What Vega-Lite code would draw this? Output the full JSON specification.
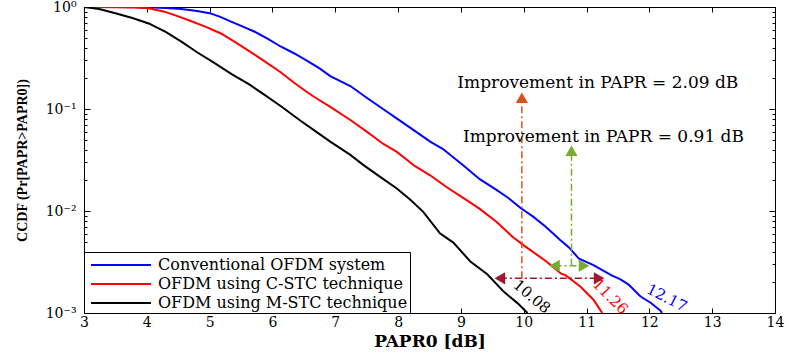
{
  "$schema": "https://vega.github.io/schema/vega-lite/v6.json",
  "width": 691,
  "height": 306,
  "autosize": {"type": "none"},
  "padding": {"left": 84, "top": 7, "right": 14, "bottom": 41},
  "background": "white",
  "config": {
    "view": {"stroke": "black", "strokeWidth": 1},
    "axis": {"grid": false, "domainColor": "black", "tickColor": "black", "labelColor": "black", "titleColor": "black", "labelFont": "DejaVu Serif", "labelFontSize": 14, "titleFont": "DejaVu Serif"},
    "legend": {"strokeColor": "black", "fillColor": "white", "padding": 2, "rowPadding": -3, "symbolType": "M-0.6,0H5.4", "symbolSize": 400, "symbolStrokeWidth": 2, "labelFont": "DejaVu Serif", "labelFontSize": 16, "labelOffset": 50, "labelColor": "black", "labelLimit": 500}
  },
  "datasets": {
    "curves": [
      {"s": "Conventional OFDM system", "x": 3.0, "y": 1.0},
      {"s": "Conventional OFDM system", "x": 3.5, "y": 0.999},
      {"s": "Conventional OFDM system", "x": 4.0, "y": 0.993},
      {"s": "Conventional OFDM system", "x": 4.3, "y": 0.98},
      {"s": "Conventional OFDM system", "x": 4.55, "y": 0.955},
      {"s": "Conventional OFDM system", "x": 4.8, "y": 0.915},
      {"s": "Conventional OFDM system", "x": 5.0, "y": 0.87},
      {"s": "Conventional OFDM system", "x": 5.17, "y": 0.8},
      {"s": "Conventional OFDM system", "x": 5.34, "y": 0.72},
      {"s": "Conventional OFDM system", "x": 5.52, "y": 0.645},
      {"s": "Conventional OFDM system", "x": 5.71, "y": 0.575},
      {"s": "Conventional OFDM system", "x": 5.92, "y": 0.49},
      {"s": "Conventional OFDM system", "x": 6.13, "y": 0.41},
      {"s": "Conventional OFDM system", "x": 6.35, "y": 0.35},
      {"s": "Conventional OFDM system", "x": 6.56, "y": 0.295},
      {"s": "Conventional OFDM system", "x": 6.75, "y": 0.25},
      {"s": "Conventional OFDM system", "x": 6.92, "y": 0.21},
      {"s": "Conventional OFDM system", "x": 7.24, "y": 0.168},
      {"s": "Conventional OFDM system", "x": 7.5, "y": 0.129},
      {"s": "Conventional OFDM system", "x": 7.76, "y": 0.1},
      {"s": "Conventional OFDM system", "x": 8.0, "y": 0.079},
      {"s": "Conventional OFDM system", "x": 8.3, "y": 0.0589},
      {"s": "Conventional OFDM system", "x": 8.51, "y": 0.0479},
      {"s": "Conventional OFDM system", "x": 8.71, "y": 0.0407},
      {"s": "Conventional OFDM system", "x": 9.03, "y": 0.0282},
      {"s": "Conventional OFDM system", "x": 9.3, "y": 0.0205},
      {"s": "Conventional OFDM system", "x": 9.56, "y": 0.0162},
      {"s": "Conventional OFDM system", "x": 9.75, "y": 0.0135},
      {"s": "Conventional OFDM system", "x": 9.95, "y": 0.0107},
      {"s": "Conventional OFDM system", "x": 10.15, "y": 0.0088},
      {"s": "Conventional OFDM system", "x": 10.35, "y": 0.007},
      {"s": "Conventional OFDM system", "x": 10.58, "y": 0.0052},
      {"s": "Conventional OFDM system", "x": 10.72, "y": 0.0044},
      {"s": "Conventional OFDM system", "x": 10.88, "y": 0.0034},
      {"s": "Conventional OFDM system", "x": 11.11, "y": 0.00295},
      {"s": "Conventional OFDM system", "x": 11.4, "y": 0.00234},
      {"s": "Conventional OFDM system", "x": 11.54, "y": 0.00214},
      {"s": "Conventional OFDM system", "x": 11.67, "y": 0.0019},
      {"s": "Conventional OFDM system", "x": 11.86, "y": 0.00145},
      {"s": "Conventional OFDM system", "x": 12.02, "y": 0.00126},
      {"s": "Conventional OFDM system", "x": 12.18, "y": 0.00105},
      {"s": "Conventional OFDM system", "x": 12.2, "y": 0.001},
      {"s": "OFDM using C-STC technique", "x": 3.0, "y": 1.0},
      {"s": "OFDM using C-STC technique", "x": 3.5, "y": 0.997},
      {"s": "OFDM using C-STC technique", "x": 3.8, "y": 0.99},
      {"s": "OFDM using C-STC technique", "x": 4.03, "y": 0.97},
      {"s": "OFDM using C-STC technique", "x": 4.28, "y": 0.9},
      {"s": "OFDM using C-STC technique", "x": 4.5, "y": 0.81},
      {"s": "OFDM using C-STC technique", "x": 4.71, "y": 0.724},
      {"s": "OFDM using C-STC technique", "x": 4.95, "y": 0.635},
      {"s": "OFDM using C-STC technique", "x": 5.18, "y": 0.55},
      {"s": "OFDM using C-STC technique", "x": 5.4, "y": 0.455},
      {"s": "OFDM using C-STC technique", "x": 5.6, "y": 0.38},
      {"s": "OFDM using C-STC technique", "x": 5.87, "y": 0.295},
      {"s": "OFDM using C-STC technique", "x": 6.13, "y": 0.229},
      {"s": "OFDM using C-STC technique", "x": 6.35, "y": 0.18},
      {"s": "OFDM using C-STC technique", "x": 6.56, "y": 0.145},
      {"s": "OFDM using C-STC technique", "x": 6.71, "y": 0.126},
      {"s": "OFDM using C-STC technique", "x": 6.92, "y": 0.105},
      {"s": "OFDM using C-STC technique", "x": 7.24, "y": 0.078},
      {"s": "OFDM using C-STC technique", "x": 7.5, "y": 0.06},
      {"s": "OFDM using C-STC technique", "x": 7.76, "y": 0.0457},
      {"s": "OFDM using C-STC technique", "x": 7.98, "y": 0.038},
      {"s": "OFDM using C-STC technique", "x": 8.27, "y": 0.0275},
      {"s": "OFDM using C-STC technique", "x": 8.51, "y": 0.0224},
      {"s": "OFDM using C-STC technique", "x": 8.77, "y": 0.0172},
      {"s": "OFDM using C-STC technique", "x": 9.03, "y": 0.0135},
      {"s": "OFDM using C-STC technique", "x": 9.3, "y": 0.0105},
      {"s": "OFDM using C-STC technique", "x": 9.56, "y": 0.0079},
      {"s": "OFDM using C-STC technique", "x": 9.82, "y": 0.0056},
      {"s": "OFDM using C-STC technique", "x": 10.0, "y": 0.0046},
      {"s": "OFDM using C-STC technique", "x": 10.35, "y": 0.00324},
      {"s": "OFDM using C-STC technique", "x": 10.59, "y": 0.00245},
      {"s": "OFDM using C-STC technique", "x": 10.67, "y": 0.00234},
      {"s": "OFDM using C-STC technique", "x": 10.9, "y": 0.00182},
      {"s": "OFDM using C-STC technique", "x": 11.11, "y": 0.00135},
      {"s": "OFDM using C-STC technique", "x": 11.25, "y": 0.001},
      {"s": "OFDM using M-STC technique", "x": 3.0, "y": 1.0},
      {"s": "OFDM using M-STC technique", "x": 3.24, "y": 0.955},
      {"s": "OFDM using M-STC technique", "x": 3.5, "y": 0.87},
      {"s": "OFDM using M-STC technique", "x": 3.77, "y": 0.78},
      {"s": "OFDM using M-STC technique", "x": 4.03, "y": 0.69},
      {"s": "OFDM using M-STC technique", "x": 4.3, "y": 0.57},
      {"s": "OFDM using M-STC technique", "x": 4.55, "y": 0.457},
      {"s": "OFDM using M-STC technique", "x": 4.8, "y": 0.36},
      {"s": "OFDM using M-STC technique", "x": 5.08, "y": 0.282},
      {"s": "OFDM using M-STC technique", "x": 5.35, "y": 0.22},
      {"s": "OFDM using M-STC technique", "x": 5.63, "y": 0.174},
      {"s": "OFDM using M-STC technique", "x": 5.88, "y": 0.137},
      {"s": "OFDM using M-STC technique", "x": 6.13, "y": 0.107},
      {"s": "OFDM using M-STC technique", "x": 6.42, "y": 0.079},
      {"s": "OFDM using M-STC technique", "x": 6.71, "y": 0.059},
      {"s": "OFDM using M-STC technique", "x": 6.92, "y": 0.0479},
      {"s": "OFDM using M-STC technique", "x": 7.24, "y": 0.0355},
      {"s": "OFDM using M-STC technique", "x": 7.45, "y": 0.0282},
      {"s": "OFDM using M-STC technique", "x": 7.72, "y": 0.0215},
      {"s": "OFDM using M-STC technique", "x": 7.98, "y": 0.0166},
      {"s": "OFDM using M-STC technique", "x": 8.2, "y": 0.0128},
      {"s": "OFDM using M-STC technique", "x": 8.4, "y": 0.0098},
      {"s": "OFDM using M-STC technique", "x": 8.67, "y": 0.006},
      {"s": "OFDM using M-STC technique", "x": 8.88, "y": 0.0049},
      {"s": "OFDM using M-STC technique", "x": 9.15, "y": 0.0032},
      {"s": "OFDM using M-STC technique", "x": 9.42, "y": 0.0024},
      {"s": "OFDM using M-STC technique", "x": 9.68, "y": 0.00162},
      {"s": "OFDM using M-STC technique", "x": 9.9, "y": 0.00125},
      {"s": "OFDM using M-STC technique", "x": 10.06, "y": 0.001}
    ]
  },
  "layer": [
    {
      "data": {"name": "curves"},
      "mark": {"type": "line", "strokeWidth": 2, "clip": true},
      "encoding": {
        "x": {"field": "x", "type": "quantitative", "scale": {"domain": [3, 14], "nice": false, "zero": false},
          "axis": {"orient": "bottom", "values": [3,4,5,6,7,8,9,10,11,12,13,14], "tickSize": -5, "labelPadding": 7, "title": "PAPR0 [dB]", "titleFontWeight": "bold", "titleFontSize": 17, "titlePadding": 4, "labelFlush": false}},
        "y": {"field": "y", "type": "quantitative", "scale": {"type": "log", "domain": [0.001, 1], "nice": false},
          "axis": {"orient": "left", "values": [0.001,0.002,0.003,0.004,0.005,0.006,0.007,0.008,0.009,0.01,0.02,0.03,0.04,0.05,0.06,0.07,0.08,0.09,0.1,0.2,0.3,0.4,0.5,0.6,0.7,0.8,0.9,1],
            "labelExpr": "datum.value == 1 ? '10⁰' : datum.value == 0.1 ? '10⁻¹' : datum.value == 0.01 ? '10⁻²' : datum.value == 0.001 ? '10⁻³' : ''",
            "labelOverlap": false, "labelFlush": false, "labelPadding": 14,
            "tickSize": {"condition": {"test": "datum.value == 1 || datum.value == 0.1 || datum.value == 0.01 || datum.value == 0.001", "value": -6}, "value": -3},
            "title": "CCDF (Pr[PAPR>PAPR0])", "titleFont": "Liberation Serif", "titleFontWeight": "bold", "titleFontSize": 14, "titlePadding": 16}},
        "color": {"field": "s", "type": "nominal",
          "scale": {"domain": ["Conventional OFDM system", "OFDM using C-STC technique", "OFDM using M-STC technique"], "range": ["#0000FF", "#FF0000", "#000000"]},
          "legend": {"title": null, "orient": "bottom-left", "offset": 0}}
      }
    },
    {
      "data": {"name": "curves"},
      "mark": {"type": "line", "strokeOpacity": 0},
      "encoding": {
        "x": {"field": "x", "type": "quantitative", "axis": {"orient": "top", "values": [3,4,5,6,7,8,9,10,11,12,13,14], "tickSize": -5, "labels": false, "title": null}},
        "y": {"field": "y", "type": "quantitative", "axis": {"orient": "right", "values": [0.001,0.002,0.003,0.004,0.005,0.006,0.007,0.008,0.009,0.01,0.02,0.03,0.04,0.05,0.06,0.07,0.08,0.09,0.1,0.2,0.3,0.4,0.5,0.6,0.7,0.8,0.9,1], "labels": false, "title": null,
          "tickSize": {"condition": {"test": "datum.value == 1 || datum.value == 0.1 || datum.value == 0.01 || datum.value == 0.001", "value": -6}, "value": -3}}}
      }
    },
    {
      "data": {"values": [
        {"x": 9.97, "y": 0.00219, "x2": 9.97, "y2": 0.13}
      ]},
      "mark": {"type": "rule", "color": "#D95319", "strokeWidth": 1.5, "strokeDash": [7, 3, 2, 3]},
      "encoding": {
        "x": {"field": "x", "type": "quantitative", "axis": null},
        "y": {"field": "y", "type": "quantitative", "axis": null},
        "x2": {"field": "x2"},
        "y2": {"field": "y2"}
      }
    },
    {
      "data": {"values": [
        {"x": 10.76, "y": 0.0029, "x2": 10.76, "y2": 0.039},
        {"x": 10.49, "y": 0.0029, "x2": 10.96, "y2": 0.0029}
      ]},
      "mark": {"type": "rule", "color": "#77AC30", "strokeWidth": 1.5, "strokeDash": [7, 3, 2, 3]},
      "encoding": {
        "x": {"field": "x", "type": "quantitative", "axis": null},
        "y": {"field": "y", "type": "quantitative", "axis": null},
        "x2": {"field": "x2"},
        "y2": {"field": "y2"}
      }
    },
    {
      "data": {"values": [
        {"x": 9.62, "y": 0.00219, "x2": 11.2, "y2": 0.00219}
      ]},
      "mark": {"type": "rule", "color": "#A2142F", "strokeWidth": 1.5, "strokeDash": [7, 3, 2, 3]},
      "encoding": {
        "x": {"field": "x", "type": "quantitative", "axis": null},
        "y": {"field": "y", "type": "quantitative", "axis": null},
        "x2": {"field": "x2"},
        "y2": {"field": "y2"}
      }
    },
    {
      "data": {"values": [
        {"x": 9.97, "y": 0.129, "dir": "up", "arrow": "orange"},
        {"x": 10.76, "y": 0.039, "dir": "up", "arrow": "green"},
        {"x": 10.49, "y": 0.0029, "dir": "left", "arrow": "green"},
        {"x": 10.96, "y": 0.0029, "dir": "right", "arrow": "green"},
        {"x": 9.62, "y": 0.00219, "dir": "left", "arrow": "maroon"},
        {"x": 11.2, "y": 0.00219, "dir": "right", "arrow": "maroon"}
      ]},
      "mark": {"type": "point", "filled": true, "size": 150, "opacity": 1},
      "encoding": {
        "x": {"field": "x", "type": "quantitative", "axis": null},
        "y": {"field": "y", "type": "quantitative", "axis": null},
        "shape": {"field": "dir", "type": "nominal", "scale": {"domain": ["up", "left", "right"], "range": ["triangle-up", "triangle-left", "triangle-right"]}, "legend": null},
        "fill": {"field": "arrow", "type": "nominal", "scale": {"domain": ["orange", "green", "maroon"], "range": ["#D95319", "#77AC30", "#A2142F"]}, "legend": null}
      }
    },
    {
      "data": {"values": [
        {"x": 11.18, "y": 0.178, "t": "Improvement in PAPR = 2.09 dB"},
        {"x": 11.27, "y": 0.053, "t": "Improvement in PAPR = 0.91 dB"}
      ]},
      "mark": {"type": "text", "font": "DejaVu Serif", "fontSize": 17, "color": "black", "align": "center", "baseline": "middle"},
      "encoding": {
        "x": {"field": "x", "type": "quantitative", "axis": null},
        "y": {"field": "y", "type": "quantitative", "axis": null},
        "text": {"field": "t"}
      }
    },
    {
      "data": {"values": [{"x": 10.13, "y": 0.00145, "t": "10.08"}]},
      "mark": {"type": "text", "font": "DejaVu Serif", "fontSize": 15, "color": "black", "angle": 40, "align": "center", "baseline": "middle"},
      "encoding": {"x": {"field": "x", "type": "quantitative", "axis": null}, "y": {"field": "y", "type": "quantitative", "axis": null}, "text": {"field": "t"}}
    },
    {
      "data": {"values": [{"x": 11.38, "y": 0.00145, "t": "11.26"}]},
      "mark": {"type": "text", "font": "DejaVu Serif", "fontSize": 15, "color": "#FF0000", "angle": 45, "align": "center", "baseline": "middle"},
      "encoding": {"x": {"field": "x", "type": "quantitative", "axis": null}, "y": {"field": "y", "type": "quantitative", "axis": null}, "text": {"field": "t"}}
    },
    {
      "data": {"values": [{"x": 12.28, "y": 0.00141, "t": "12.17"}]},
      "mark": {"type": "text", "font": "DejaVu Serif", "fontSize": 15, "color": "#0000FF", "angle": 27, "align": "center", "baseline": "middle"},
      "encoding": {"x": {"field": "x", "type": "quantitative", "axis": null}, "y": {"field": "y", "type": "quantitative", "axis": null}, "text": {"field": "t"}}
    }
  ],
  "resolve": {"axis": {"x": "independent", "y": "independent"}}
}
